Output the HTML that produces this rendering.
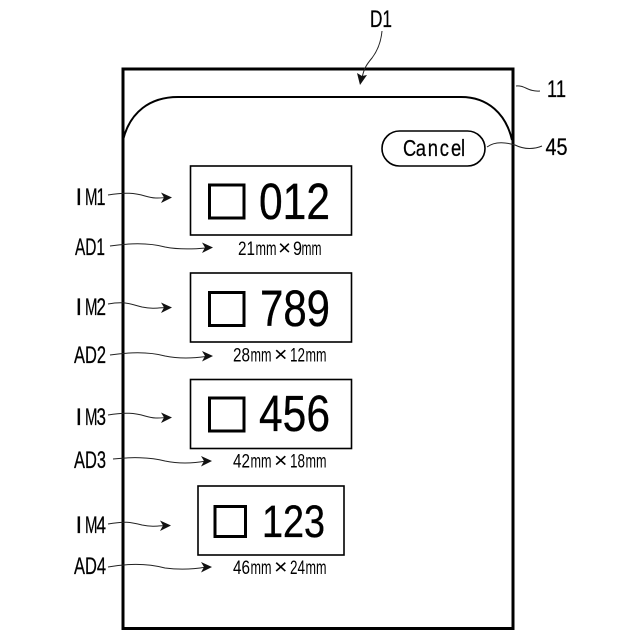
<!DOCTYPE html>
<html><head><meta charset="utf-8"><style>
html,body{margin:0;padding:0;background:#fff}
svg{display:block}
text{font-family:"Liberation Sans",sans-serif;fill:#000}
.c{fill:none;stroke:#222;stroke-width:1}
.b{stroke:#000;stroke-width:.35}
.l{stroke:#000;stroke-width:.25}
</style></head><body>
<svg width="640" height="640" viewBox="0 0 640 640" xmlns="http://www.w3.org/2000/svg">
<rect width="640" height="640" fill="#fff"/>
<rect x="123" y="69" width="390" height="559.5" fill="none" stroke="#000" stroke-width="3"/>
<path d="M123 140 C130 112 150 97 178 97 L461 97 C488 97 506 114 512 140" fill="none" stroke="#000" stroke-width="2"/>
<rect x="382" y="131" width="103" height="35" rx="17.5" fill="#fff" stroke="#000" stroke-width="1.6"/>
<text class="l" transform="translate(403,156) scale(.8,1)" x="0 16 31 46 60 72.5" font-size="23">Cancel</text>

<g fill="#fff" stroke="#000" stroke-width="1.6">
<rect x="190.5" y="166" width="161" height="69"/>
<rect x="190.5" y="273" width="161" height="69"/>
<rect x="190.5" y="379.5" width="161" height="69"/>
<rect x="198" y="486" width="146" height="69"/>
</g>
<g fill="none" stroke="#000" stroke-width="3">
<rect x="209.5" y="185" width="34.5" height="33"/>
<rect x="209.5" y="292.5" width="34.5" height="33"/>
<rect x="209.5" y="398" width="34.5" height="33"/>
<rect x="215" y="506.5" width="30.5" height="30"/>
</g>
<g class="b">
<text x="259" y="219" font-size="51" textLength="71" lengthAdjust="spacingAndGlyphs">012</text>
<text x="260" y="326" font-size="51" textLength="70" lengthAdjust="spacingAndGlyphs">789</text>
<text x="259" y="431" font-size="51" textLength="71" lengthAdjust="spacingAndGlyphs">456</text>
<text x="262" y="537" font-size="45" textLength="63" lengthAdjust="spacingAndGlyphs">123</text>
</g>

<g font-size="19">
<text x="238" y="255" textLength="17" lengthAdjust="spacingAndGlyphs">21</text>
<text x="293" y="255" textLength="9" lengthAdjust="spacingAndGlyphs">9</text>
<text x="233" y="361.5" textLength="17" lengthAdjust="spacingAndGlyphs">28</text>
<text x="290" y="361.5" textLength="15" lengthAdjust="spacingAndGlyphs">12</text>
<text x="233" y="467.5" textLength="17" lengthAdjust="spacingAndGlyphs">42</text>
<text x="290" y="467.5" textLength="15" lengthAdjust="spacingAndGlyphs">18</text>
<text x="233" y="574" textLength="17" lengthAdjust="spacingAndGlyphs">46</text>
<text x="290" y="574" textLength="15" lengthAdjust="spacingAndGlyphs">24</text>
<text x="255.5" y="255" textLength="21" lengthAdjust="spacingAndGlyphs">mm</text>
<text x="301.5" y="255" textLength="20" lengthAdjust="spacingAndGlyphs">mm</text>
<text x="250.5" y="361.5" textLength="21" lengthAdjust="spacingAndGlyphs">mm</text>
<text x="305.5" y="361.5" textLength="21" lengthAdjust="spacingAndGlyphs">mm</text>
<text x="250.5" y="467.5" textLength="21" lengthAdjust="spacingAndGlyphs">mm</text>
<text x="305.5" y="467.5" textLength="21" lengthAdjust="spacingAndGlyphs">mm</text>
<text x="250.5" y="574" textLength="21" lengthAdjust="spacingAndGlyphs">mm</text>
<text x="305.5" y="574" textLength="21" lengthAdjust="spacingAndGlyphs">mm</text>
</g>
<g font-size="21">
<text x="278" y="255" textLength="13" lengthAdjust="spacingAndGlyphs">×</text>
<text x="274" y="361.5" textLength="13.5" lengthAdjust="spacingAndGlyphs">×</text>
<text x="274" y="467.5" textLength="13.5" lengthAdjust="spacingAndGlyphs">×</text>
<text x="274" y="574" textLength="13.5" lengthAdjust="spacingAndGlyphs">×</text>
</g>

<g font-size="24" class="l">
<text x="75.5" y="205">I</text><text x="85" y="205" textLength="12.5" lengthAdjust="spacingAndGlyphs">M</text><text x="96.5" y="205" textLength="9" lengthAdjust="spacingAndGlyphs">1</text>
<text x="75" y="255" textLength="30" lengthAdjust="spacingAndGlyphs">AD1</text>
<text x="75.5" y="315">I</text><text x="85" y="315" textLength="12.5" lengthAdjust="spacingAndGlyphs">M</text><text x="96.5" y="315" textLength="9.5" lengthAdjust="spacingAndGlyphs">2</text>
<text x="74" y="363" textLength="32" lengthAdjust="spacingAndGlyphs">AD2</text>
<text x="75.5" y="425">I</text><text x="85" y="425" textLength="12.5" lengthAdjust="spacingAndGlyphs">M</text><text x="96.5" y="425" textLength="9.5" lengthAdjust="spacingAndGlyphs">3</text>
<text x="74" y="468" textLength="32" lengthAdjust="spacingAndGlyphs">AD3</text>
<text x="75.5" y="533">I</text><text x="85" y="533" textLength="12.5" lengthAdjust="spacingAndGlyphs">M</text><text x="96.5" y="533" textLength="9.5" lengthAdjust="spacingAndGlyphs">4</text>
<text x="74" y="574" textLength="32" lengthAdjust="spacingAndGlyphs">AD4</text>
<text x="370" y="27" textLength="22" lengthAdjust="spacingAndGlyphs">D1</text>
<text x="547" y="97" textLength="19" lengthAdjust="spacingAndGlyphs">11</text>
<text x="545.5" y="155" textLength="22" lengthAdjust="spacingAndGlyphs">45</text>
</g>

<g class="c">
<path d="M108 195 C125 192 135 193 145 196 C155 199 160 198 166 197.5"/>
<path d="M110 246 C130 243 150 243 165 247 C180 250 195 249 206 248"/>
<path d="M108 304 C125 301 130 304 142 307 C152 309 158 308 166 307.5"/>
<path d="M110 355 C130 352 150 352 165 356 C180 359 195 358 206 356.5"/>
<path d="M108 415 C125 412 135 413 145 416 C155 419 160 418 166 417.5"/>
<path d="M113 459 C130 457 150 457 165 461 C180 464 195 463 206 461"/>
<path d="M108 524 C125 521 130 522 142 525 C152 527 158 526 166 525.5"/>
<path d="M108 567 C130 563 150 564 165 568 C180 570 195 569 206 567"/>
<path d="M382 31 C381 42 378 50 372 58 C367 64 364 68 362 78"/>
<path d="M516 86 C525 85 528 92 540 91"/>
<path d="M487 147 C495 141 505 142 515 145 C525 150 535 149 542 146"/>
</g>
<g fill="#111">
<path d="M172 197.5 L161 192.5 L164 197.5 L161 203 Z"/>
<path d="M213 247.5 L202 242.5 L205 247.5 L202 253 Z"/>
<path d="M172 307.5 L161 302.5 L164 307.5 L161 313 Z"/>
<path d="M213 356 L202 351 L205 356 L202 361.5 Z"/>
<path d="M172 417.5 L161 412.5 L164 417.5 L161 423 Z"/>
<path d="M212 461 L201 456 L204 461 L201 466.5 Z"/>
<path d="M171 525.5 L160 520.5 L163 525.5 L160 531 Z"/>
<path d="M212 567 L201 562 L204 567 L201 572.5 Z"/>
<path d="M360 85 L357 73 L362 76 L367 75 Z"/>
</g>
</svg>
</body></html>
